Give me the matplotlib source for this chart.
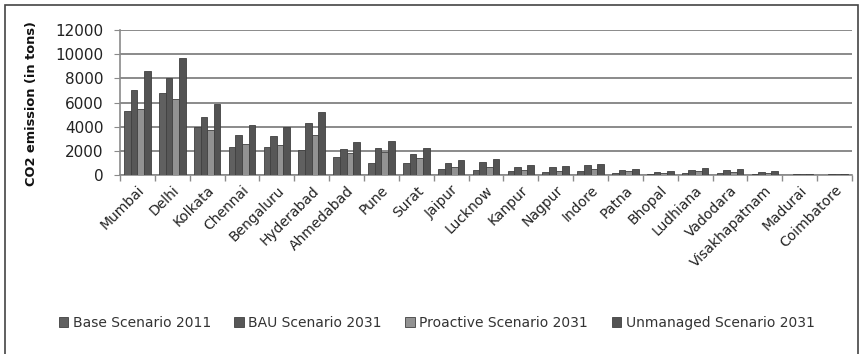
#!/bin/python3
# -*- coding: utf-8 -*-
"""
CO2 emission of Indian cities under four transport scenarios.
"""

#################################################
#     Libraries
#################################################
import numpy as np
import matplotlib
matplotlib.use( "Agg" )
import matplotlib.pyplot as plt
from matplotlib.patches import Rectangle

#################################################
#     Data
#################################################
cities = [ "Mumbai", "Delhi", "Kolkata", "Chennai", "Bengaluru", "Hyderabad", "Ahmedabad",
           "Pune", "Surat", "Jaipur", "Lucknow", "Kanpur", "Nagpur", "Indore", "Patna",
           "Bhopal", "Ludhiana", "Vadodara", "Visakhapatnam", "Madurai", "Coimbatore" ]

base_2011       = [ 5300, 6800, 4000, 2300, 2350, 2100, 1500, 1000, 1000, 500, 400, 300, 250, 350, 200, 100, 150, 150, 100, 30, 40 ]
bau_2031        = [ 7000, 8000, 4800, 3300, 3200, 4300, 2150, 2250, 1700, 1000, 1050, 700, 650, 800, 450, 250, 450, 400, 250, 60, 80 ]
proactive_2031  = [ 5500, 6300, 3700, 2600, 2500, 3300, 1800, 1900, 1400, 650, 700, 400, 350, 500, 300, 150, 300, 250, 200, 50, 60 ]
unmanaged_2031  = [ 8600, 9700, 5900, 4100, 4000, 5200, 2700, 2800, 2200, 1250, 1300, 800, 780, 950, 500, 300, 600, 500, 300, 70, 100 ]

series_names = [ "Base Scenario 2011", "BAU Scenario 2031", "Proactive Scenario 2031", "Unmanaged Scenario 2031" ]
series_values = [ base_2011, bau_2031, proactive_2031, unmanaged_2031 ]
series_colors = [ "#606060", "#575757", "#929292", "#535353" ]

#################################################
#     Plot
#################################################
fig = plt.figure( figsize = ( 8.61, 3.54 ), dpi = 100 )
ax = fig.add_axes( [ 0.1394, 0.5056, 0.8501, 0.4097 ] )

x = np.arange( len( cities ) )
bar_w = 0.19
for i, ( name, vals, col ) in enumerate( zip( series_names, series_values, series_colors ) ):
    offset = ( i - 1.5 ) * bar_w
    ax.bar( x + offset, vals, width = bar_w, color = col, edgecolor = "#404040", linewidth = 0.6, label = name, zorder = 3 )

ax.set_xlim( -0.5, len( cities ) - 0.5 )
ax.set_ylim( 0, 12000 )
ax.set_yticks( np.arange( 0, 12001, 2000 ) )
ax.grid( axis = "y", color = "#8a8a8a", linewidth = 1.4, zorder = 0 )

for side in [ "top", "right" ]:
    ax.spines[ side ].set_visible( False )
ax.spines[ "left" ].set_color( "#8a8a8a" )
ax.spines[ "bottom" ].set_color( "#8a8a8a" )
ax.spines[ "left" ].set_linewidth( 1.2 )
ax.spines[ "bottom" ].set_linewidth( 1.2 )

# category ticks sit between the groups
ax.set_xticks( np.arange( -0.5, len( cities ), 1.0 ) )
ax.set_xticklabels( [] )
ax.set_xticks( x, minor = True )
ax.set_xticklabels( cities, minor = True, rotation = 45, ha = "right", rotation_mode = "anchor", fontsize = 10, color = "#222222" )
ax.tick_params( axis = "x", which = "major", length = 4, color = "#8a8a8a", width = 1 )
ax.tick_params( axis = "x", which = "minor", length = 0, pad = 6 )
ax.tick_params( axis = "y", length = 4, color = "#8a8a8a", labelsize = 11, labelcolor = "#222222", pad = 8 )

ax.set_ylabel( "CO2 emission (in tons)", fontsize = 9.4, fontweight = "bold", color = "#111111" )
ax.yaxis.set_label_coords( -0.112, 0.493 )

ax.legend( loc = "center", bbox_to_anchor = ( 0.507, 0.0876 ), bbox_transform = fig.transFigure, ncol = 4, frameon = False,
           fontsize = 10, handlelength = 0.7, handleheight = 0.7, handletextpad = 0.3, columnspacing = 1.7, labelcolor = "#333333" )

# outer frame round the whole chart
fig.patches.append( Rectangle( ( 5 / 861, -0.05 ), 853 / 861, 1 - 5 / 354 + 0.05, transform = fig.transFigure,
                               fill = False, edgecolor = "#444444", linewidth = 1.2 ) )

fig.savefig( "out.png", dpi = 100 )
